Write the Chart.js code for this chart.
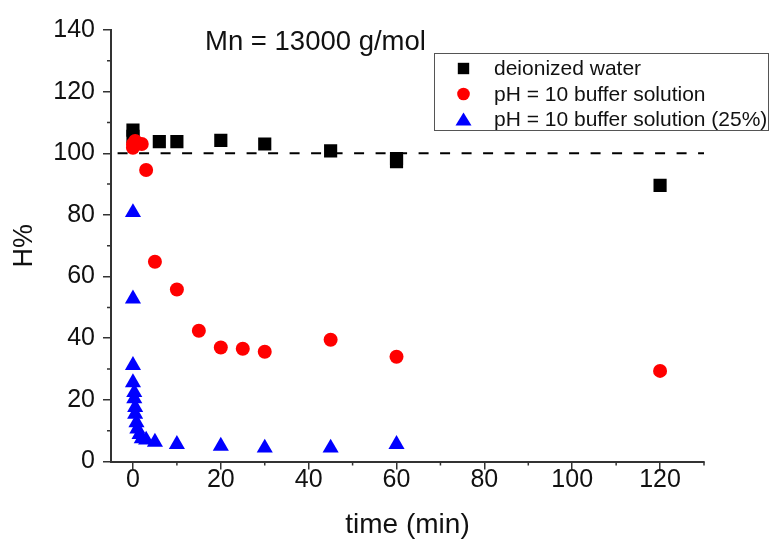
<!DOCTYPE html>
<html>
<head>
<meta charset="utf-8">
<script src="https://cdn.jsdelivr.net/npm/chart.js@4.4.0/dist/chart.umd.min.js"></script>
<style>
  html, body { margin: 0; padding: 0; background: #fff; }
  #wrap { width: 771px; height: 548px; }
</style>
</head>
<body>
<div id="wrap"><canvas id="hChart" width="771" height="548"></canvas></div>
<script>
// Series names (legend)
const seriesNames = ['deionized water', 'pH = 10 buffer solution', 'pH = 10 buffer solution (25%)'];

// Deionized water
const waterTime = [0, 0, 6, 10, 20, 30, 45, 60, 60, 120];
const waterH = [107.5, 105.5, 103.8, 103.8, 104.2, 103, 100.8, 98.3, 97.3, 89.6];

// pH = 10 buffer solution
const bufferTime = [0, 0, 0.5, 1, 2, 3, 5, 10, 15, 20, 25, 30, 45, 60, 120];
const bufferH = [101.8, 103, 104, 103.2, 103, 94.6, 64.8, 55.8, 42.4, 37, 36.6, 35.6, 39.5, 34, 29.4];

// pH = 10 buffer solution (25%)
const buffer25Time = [0, 0, 0, 0, 0.3, 0.3, 0.5, 0.5, 0.8, 1, 1.5, 2, 3, 5, 10, 20, 30, 45, 60];
const buffer25H = [80.8, 52.8, 31.2, 25.6, 22.4, 20.4, 17.6, 15.4, 12.6, 10.6, 8.8, 7.4, 7, 6.3, 5.6, 5, 4.4, 4.4, 5.6];

// 100 % reference line
const refLineX = [-3.5, 130];
const refLineY = [100, 100];

// Axis ticks
const xTicks = [0, 20, 40, 60, 80, 100, 120];
const xMinorTicks = [10, 30, 50, 70, 90, 110, 130];
const yTicks = [0, 20, 40, 60, 80, 100, 120, 140];
const yMinorTicks = [10, 30, 50, 70, 90, 110, 130];

const seriesColors = ['#000000', '#ff0000', '#0000ff'];
const seriesStyles = ['rect', 'circle', 'triangle'];

const toPoints = (xs, ys) => xs.map((x, i) => ({ x: x, y: ys[i] }));

const FONT = "'Liberation Sans', Arial, sans-serif";
Chart.defaults.font.family = FONT;
Chart.defaults.color = '#111';

// Minor ticks, legend box and the Mn note
const extrasPlugin = {
    id: 'extras',
    afterDraw(chart) {
        const ctx = chart.ctx;
        const xs = chart.scales.x, ys = chart.scales.y;
        ctx.save();
        ctx.strokeStyle = '#333';
        ctx.lineWidth = 1.5;
        ctx.beginPath();
        xMinorTicks.forEach(v => {
            const px = xs.getPixelForValue(v);
            ctx.moveTo(px, xs.top);
            ctx.lineTo(px, xs.top + 4);
        });
        yMinorTicks.forEach(v => {
            const py = ys.getPixelForValue(v);
            ctx.moveTo(ys.right, py);
            ctx.lineTo(ys.right - 4, py);
        });
        ctx.stroke();

        // legend box
        const bx = 434.5, by = 53.5, bw = 334, bh = 77;
        ctx.strokeStyle = '#555';
        ctx.lineWidth = 1;
        ctx.strokeRect(bx, by, bw, bh);
        ctx.font = '21px ' + FONT;
        ctx.textBaseline = 'middle';
        ctx.textAlign = 'left';
        seriesNames.forEach((name, i) => {
            const cy = 68.5 + i * 25.5;
            const cx = 463.5;
            ctx.fillStyle = seriesColors[i];
            ctx.beginPath();
            if (seriesStyles[i] === 'rect') {
                ctx.rect(cx - 5.7, cy - 5.7, 11.4, 11.4);
            } else if (seriesStyles[i] === 'circle') {
                ctx.arc(cx, cy, 6.3, 0, Math.PI * 2);
            } else {
                ctx.moveTo(cx, cy - 7);
                ctx.lineTo(cx + 8, cy + 6);
                ctx.lineTo(cx - 8, cy + 6);
                ctx.closePath();
            }
            ctx.fill();
            ctx.fillStyle = '#111';
            ctx.fillText(name, 494, cy + 1);
        });

        // note
        ctx.font = '27.5px ' + FONT;
        ctx.fillStyle = '#111';
        ctx.fillText('Mn = 13000 g/mol', 205, 42);
        ctx.restore();
    }
};

const ctxH = document.getElementById('hChart').getContext('2d');
const hChart = new Chart(ctxH, {
    type: 'scatter',
    data: {
        datasets: [
            {
                label: seriesNames[0],
                data: toPoints(waterTime, waterH),
                pointStyle: 'rect',
                pointRadius: 9.3,
                backgroundColor: seriesColors[0],
                borderColor: seriesColors[0],
                borderWidth: 0,
                order: 3
            },
            {
                label: seriesNames[1],
                data: toPoints(bufferTime, bufferH),
                pointStyle: 'circle',
                pointRadius: 7,
                backgroundColor: seriesColors[1],
                borderColor: seriesColors[1],
                borderWidth: 0,
                order: 2
            },
            {
                label: seriesNames[2],
                data: toPoints(buffer25Time, buffer25H),
                pointStyle: 'triangle',
                pointRadius: 9.3,
                backgroundColor: seriesColors[2],
                borderColor: seriesColors[2],
                borderWidth: 0,
                order: 1
            },
            {
                type: 'line',
                label: 'ref',
                data: toPoints(refLineX, refLineY),
                borderColor: '#000',
                borderWidth: 2,
                borderDash: [10, 11.5],
                pointRadius: 0,
                fill: false,
                order: 5
            }
        ]
    },
    options: {
        responsive: false,
        animation: false,
        layout: { padding: { top: 30, right: 67, left: 0, bottom: 0 } },
        plugins: {
            legend: { display: false },
            tooltip: { enabled: false }
        },
        scales: {
            x: {
                type: 'linear',
                min: -5,
                max: 130,
                afterBuildTicks: scale => { scale.ticks = xTicks.map(v => ({ value: v })); },
                afterFit: scale => { scale.height = 86.5; },
                ticks: { font: { size: 25 }, color: '#111', padding: -4, maxRotation: 0 },
                grid: { drawOnChartArea: false, drawTicks: true, tickLength: 8, color: '#333', lineWidth: 1.5 },
                border: { display: true, color: '#333', width: 2 },
                title: { display: true, text: 'time (min)', font: { size: 28 }, color: '#111', padding: { top: 0, bottom: 6 } }
            },
            y: {
                type: 'linear',
                min: 0,
                max: 140,
                afterBuildTicks: scale => { scale.ticks = yTicks.map(v => ({ value: v })); },
                afterFit: scale => { scale.width = 111; },
                ticks: { font: { size: 25 }, color: '#111', padding: 8 },
                grid: { drawOnChartArea: false, drawTicks: true, tickLength: 8, color: '#333', lineWidth: 1.5 },
                border: { display: true, color: '#333', width: 2 },
                title: { display: true, text: 'H%', font: { size: 27 }, color: '#111', padding: { top: 8, bottom: 0 } }
            }
        }
    },
    plugins: [extrasPlugin]
});
</script>
</body>
</html>
